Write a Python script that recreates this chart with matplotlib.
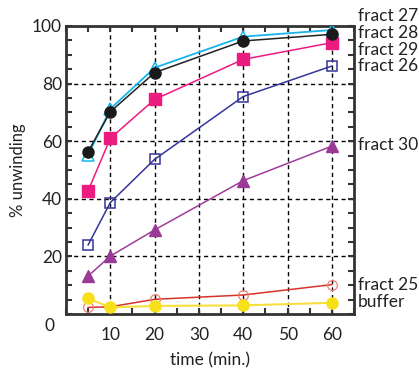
import matplotlib
matplotlib.use("Agg")
import matplotlib.pyplot as plt
from matplotlib.ticker import MultipleLocator

plt.rcParams['font.family'] = ['Lato', 'DejaVu Sans']

time = [5, 10, 20, 40, 60]
fract27 = [55.2, 71.2, 85.5, 96.3, 98.6]
fract28 = [56.4, 70.2, 83.8, 94.8, 97.1]
fract29 = [42.8, 61.0, 74.5, 88.4, 94.2]
fract26 = [24.0, 38.7, 53.7, 75.5, 86.1]
fract30 = [13.2, 20.1, 29.2, 46.3, 58.3]
fract25 = [2.3, 2.5, 5.1, 6.6, 10.2]
buffer = [5.4, 2.3, 2.8, 3.0, 3.9]

labels = ["fract 27", "fract 28", "fract 29", "fract 26", "fract 30", "fract 25", "buffer"]
label_y = [103.3, 97.6, 91.7, 86.1, 58.7, 10.1, 4.2]
xticks = [10, 20, 30, 40, 50, 60]
yticks = [20, 40, 60, 80, 100]

fig = plt.figure(figsize=(4.19, 3.71), dpi=100)
ax = fig.add_axes([0.1575, 0.1536, 0.6875, 0.7764])

ax.plot(time, fract25, '-', color='#d8332a', lw=1.1, marker='o', ms=7,
        mfc='none', mec='#f08070', mew=0.9, zorder=3)
ax.plot(time, buffer, '-', color='#f7e03c', lw=1.5, marker='o', ms=8,
        mfc='#f7e01a', mec='#f7e01a', zorder=4)
ax.plot(time, fract30, '-', color='#a03c9c', lw=1.1, marker='^', ms=8,
        mfc='#9a3a96', mec='#9a3a96', zorder=3)
ax.plot(time, fract26, '-', color='#34349a', lw=1.1, marker='s', ms=7,
        mfc='none', mec='#34349a', mew=1.1, zorder=3)
ax.plot(time, fract29, '-', color='#ec1b80', lw=1.1, marker='s', ms=8,
        mfc='#ec1b80', mec='#ec1b80', zorder=3)
ax.plot(time, fract27, '-', color='#16b4ec', lw=1.3, marker='^', ms=8.5,
        mfc='none', mec='#16b4ec', mew=1.1, zorder=3)
ax.plot(time, fract28, '-', color='#222222', lw=1.1, marker='o', ms=8,
        mfc='#1a1a1a', mec='#1a1a1a', zorder=4)

ax.set_xlim(0, 65)
ax.set_ylim(0, 100)
ax.set_xticks(xticks)
ax.set_yticks(yticks)
ax.xaxis.set_minor_locator(MultipleLocator(5))
ax.yaxis.set_minor_locator(MultipleLocator(5))
ax.grid(True, which='major', linestyle=(0, (3, 2.5)), color='black', lw=1.0)
ax.tick_params(which='both', direction='in', top=True, right=True,
               length=4, width=1.5, color='#333333', labelsize=12.5,
               labelcolor='#222222')
ax.tick_params(axis='y', pad=3)
ax.tick_params(axis='x', pad=9)
for s in ax.spines.values():
    s.set_linewidth(2)
    s.set_color('#333333')

ax.text(-0.04, -0.04, "0", transform=ax.transAxes, fontsize=12.5, ha='right',
        va='center', color='#222222')

ax.set_xlabel("time (min.)", fontsize=12.5, labelpad=7, color='#222222')
ax.set_ylabel("% unwinding", fontsize=12, labelpad=4, color='#222222')

for lab, yy in zip(labels, label_y):
    ax.text(65.8, yy, lab, fontsize=12.5, ha='left', va='center', clip_on=False,
            color='#222222')

fig.savefig("out.png", dpi=100)
